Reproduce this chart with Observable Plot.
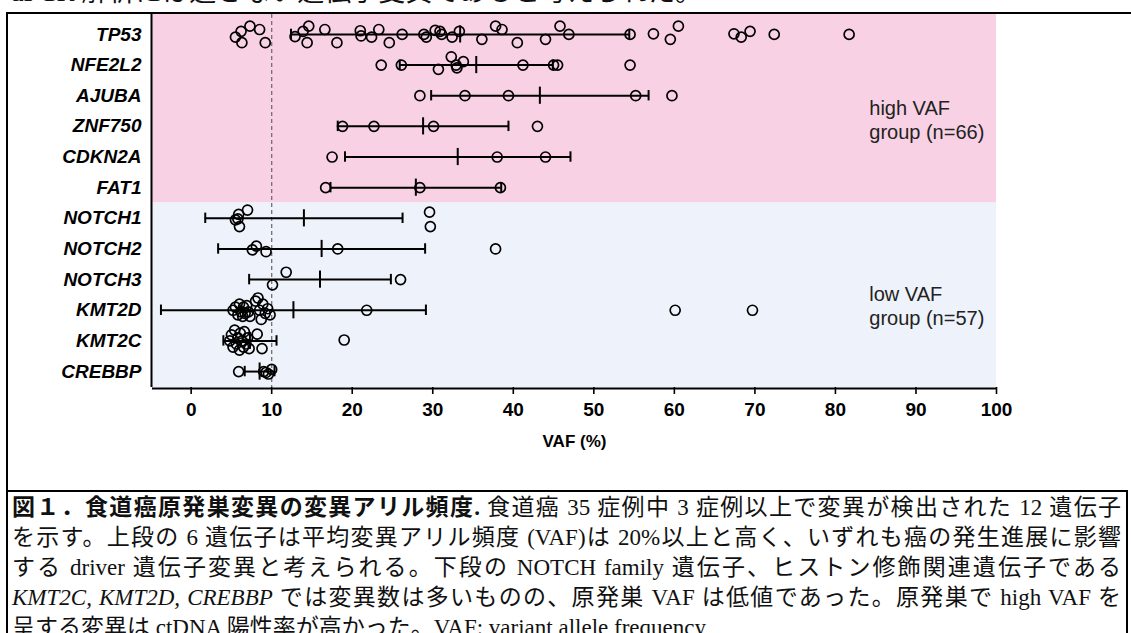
<!DOCTYPE html>
<html>
<head>
<meta charset="utf-8">
<script src="https://cdn.jsdelivr.net/npm/d3@7"></script>
<script src="https://cdn.jsdelivr.net/npm/@observablehq/plot@0.6"></script>
<style>
  html, body { margin: 0; padding: 0; background: #fff; }
  body { width: 1131px; height: 633px; position: relative; overflow: hidden; }
  #lead {
    position: absolute; left: 10px; top: -23px; white-space: nowrap;
    font: 27px/30px "Liberation Serif", "Noto Sans CJK JP", serif; color: #111;
  }
  #box {
    position: absolute; left: 6px; top: 12px; width: 1200px; height: 700px;
    border-top: 2px solid #000; border-left: 2px solid #000;
  }
  #chart { position: absolute; left: 0; top: 0; }
  #caption {
    position: absolute; left: 6px; top: 490px; width: 1122px;
    border-top: 2px solid #000; border-left: 2px solid #000; border-right: 2px solid #000;
    padding: 1px 5px 0 4px; box-sizing: border-box;
    font-family: "Liberation Serif", "Noto Sans CJK JP", serif; font-size: 23px; color: #111;
  }
  #caption .ln {
    height: 30px; line-height: 30px; white-space: nowrap;
    text-align: justify; text-align-last: justify;
  }
  #caption .ln.end { text-align-last: left; }
  #caption b { font-weight: bold; }
</style>
</head>
<body>
<div id="lead">dPCR 解析には適さない遺伝子変異であると考えられた。</div>
<div id="box"></div>
<div id="chart"></div>
<div id="caption">
  <div class="ln"><b>図１．食道癌原発巣変異の変異アリル頻度.</b> 食道癌 35 症例中 3 症例以上で変異が検出された 12 遺伝子</div>
  <div class="ln">を示す。上段の 6 遺伝子は平均変異アリル頻度 (VAF)は 20%以上と高く、いずれも癌の発生進展に影響</div>
  <div class="ln">する driver 遺伝子変異と考えられる。下段の NOTCH family 遺伝子、ヒストン修飾関連遺伝子である</div>
  <div class="ln"><i>KMT2C, KMT2D, CREBBP</i> では変異数は多いものの、原発巣 VAF は低値であった。原発巣で high VAF を</div>
  <div class="ln end">呈する変異は ctDNA 陽性率が高かった。VAF: variant allele frequency</div>
</div>
<script>
// Genes, top to bottom; the first six form the high-VAF group
const genes = ["TP53", "NFE2L2", "AJUBA", "ZNF750", "CDKN2A", "FAT1",
               "NOTCH1", "NOTCH2", "NOTCH3", "KMT2D", "KMT2C", "CREBBP"];
const highCount = 6;

// Mean and SD of VAF (%) per gene
const meanVAF = [33.4, 35.4, 43.3, 28.8, 33.1, 27.9, 14.0, 16.2, 16.0, 12.7, 7.3, 8.5];
const sdVAF   = [21.0, 9.5, 13.5, 10.6, 14.0, 10.6, 12.25, 12.85, 8.8, 16.45, 3.3, 1.85];

// Individual mutations: [VAF %, vertical jitter within the row]
const vafTP53 = [[5.5, 0.09], [6.2, -0.10], [6.3, 0.27], [7.3, -0.27], [8.5, -0.16], [9.2, 0.27],
  [12.9, 0.07], [13.9, -0.10], [14.6, -0.27], [14.4, 0.27], [16.6, -0.16], [18.1, 0.27],
  [21.0, -0.12], [21.1, 0.05], [22.4, 0.09], [23.3, -0.16], [24.6, 0.27], [26.2, 0.0],
  [28.9, 0.0], [29.2, 0.09], [30.3, -0.13], [30.9, -0.10], [31.1, 0.0], [32.4, 0.09],
  [33.3, -0.10], [36.1, 0.16], [37.8, -0.27], [38.6, -0.16], [40.5, 0.27], [44.0, 0.16],
  [45.8, -0.27], [46.9, 0.0], [54.5, 0.0], [57.4, -0.02], [59.5, 0.16], [60.5, -0.27],
  [67.4, -0.02], [68.3, 0.09], [69.4, -0.10], [72.4, 0.0], [81.7, 0.0]];
const vafNFE2L2 = [[23.6, 0], [26.1, 0], [30.7, 0.14], [32.3, -0.27], [32.9, 0], [33.0, 0.09],
  [33.8, -0.11], [41.2, 0], [45.0, 0], [45.5, 0], [54.5, 0]];
const vafAJUBA = [[28.4, 0], [34.0, 0], [39.4, 0], [55.2, 0], [59.7, 0]];
const vafZNF750 = [[18.8, 0], [22.7, 0], [30.1, 0], [43.0, 0]];
const vafCDKN2A = [[17.5, 0], [38.0, 0], [44.0, 0]];
const vafFAT1 = [[16.7, 0], [28.4, 0], [38.4, 0]];
const vafNOTCH1 = [[7.0, -0.27], [5.9, -0.13], [5.5, 0.05], [5.8, 0.02], [6.0, 0.27],
  [29.6, -0.20], [29.7, 0.27]];
const vafNOTCH2 = [[7.6, 0.03], [8.1, -0.09], [9.3, 0.09], [18.2, 0], [37.8, 0]];
const vafNOTCH3 = [[11.8, -0.24], [10.1, 0.17], [26.0, 0]];
const vafKMT2D = [[5.2, 0.0], [5.5, -0.10], [5.8, 0.15], [6.0, -0.20], [6.2, 0.05], [6.4, 0.20],
  [6.5, -0.10], [6.7, 0.10], [6.9, -0.15], [7.1, 0.05], [7.3, 0.20], [8.0, -0.30],
  [8.3, -0.40], [8.5, 0.0], [8.7, 0.30], [8.9, -0.20], [9.2, 0.10], [9.5, -0.05],
  [9.8, 0.15], [21.8, 0], [60.1, 0], [69.7, 0]];
const vafKMT2C = [[4.8, 0.0], [5.0, -0.20], [5.2, 0.20], [5.4, -0.35], [5.6, 0.10], [5.8, -0.10],
  [6.0, 0.30], [6.1, -0.25], [6.3, 0.0], [6.5, 0.20], [6.6, -0.30], [6.8, 0.10],
  [7.0, -0.10], [7.2, 0.25], [8.2, -0.22], [8.8, 0.25], [19.0, -0.03]];
const vafCREBBP = [[5.9, 0], [9.0, 0], [9.3, 0.03], [9.6, 0.08], [10.0, -0.07]];

const perGene = [vafTP53, vafNFE2L2, vafAJUBA, vafZNF750, vafCDKN2A, vafFAT1,
                 vafNOTCH1, vafNOTCH2, vafNOTCH3, vafKMT2D, vafKMT2C, vafCREBBP];

// Group labels
const groupNotes = ["high VAF\ngroup (n=66)", "low VAF\ngroup (n=57)"];

// Axis extents and ticks
const xDomain = [-4.8, 100];
const yDomain = [-0.65, 11.52];
const xTicks = d3.range(0, 101, 10);
const cutoff = 10;

const rows = genes.map((g, i) => ({gene: g, row: i, mean: meanVAF[i], sd: sdVAF[i]}));
const points = perGene.flatMap((arr, i) => arr.map(([v, j]) => ({row: i, vaf: v, jit: j})));
const split = highCount - 0.5;
const bands = [
  {y1: yDomain[0], y2: split, fill: "#f8d1e4"},
  {y1: split, y2: yDomain[1], fill: "#eef2fa"}
];
const notes = [
  {text: groupNotes[0], x: 84.2, y: 2.76},
  {text: groupNotes[1], x: 84.2, y: 8.84}
];

const chart = Plot.plot({
  width: 1131,
  height: 470,
  marginTop: 14,
  marginBottom: 83,
  marginLeft: 152,
  marginRight: 135,
  style: {fontFamily: "'Liberation Sans', Arial, sans-serif", background: "transparent", color: "#000", overflow: "visible"},
  x: {domain: xDomain, label: null},
  y: {domain: yDomain, reverse: true, label: null},
  marks: [
    Plot.rect(bands, {x1: xDomain[0], x2: xDomain[1], y1: "y1", y2: "y2", fill: "fill"}),
    Plot.ruleX([cutoff], {stroke: "#707070", strokeWidth: 1.3, strokeDasharray: "4,3"}),
    // SD whiskers, caps and mean ticks
    Plot.ruleY(rows, {y: "row", x1: d => d.mean - d.sd, x2: d => d.mean + d.sd, stroke: "#000", strokeWidth: 2}),
    Plot.ruleX(rows, {x: d => d.mean - d.sd, y1: d => d.row - 0.17, y2: d => d.row + 0.17, stroke: "#000", strokeWidth: 2}),
    Plot.ruleX(rows, {x: d => d.mean + d.sd, y1: d => d.row - 0.17, y2: d => d.row + 0.17, stroke: "#000", strokeWidth: 2}),
    Plot.ruleX(rows, {x: "mean", y1: d => d.row - 0.28, y2: d => d.row + 0.28, stroke: "#000", strokeWidth: 2}),
    // mutations
    Plot.dot(points, {x: "vaf", y: d => d.row + d.jit, r: 5, fill: "none", stroke: "#000", strokeWidth: 1.7}),
    Plot.text(notes, {x: "x", y: "y", text: "text", textAnchor: "start", lineAnchor: "middle",
      lineHeight: 1.2, fontSize: 20, fill: "#222"}),
    // axes
    Plot.ruleX([xDomain[0]], {stroke: "#000", strokeWidth: 2, dx: -1}),
    Plot.ruleY([yDomain[1]], {stroke: "#000", strokeWidth: 2, dy: 1}),
    Plot.axisX(xTicks, {anchor: "bottom", tickSize: 7, tickPadding: 8, strokeWidth: 1.6,
      fontSize: 19, fontWeight: "bold", label: null}),
    Plot.axisY(d3.range(genes.length), {anchor: "left", tickSize: 0, tickPadding: 11,
      tickFormat: i => genes[i], fontSize: 19, fontWeight: "bold", fontStyle: "italic", label: null}),
    Plot.text(["VAF (%)"], {frameAnchor: "bottom", dy: 59, fontSize: 17, fontWeight: "bold"})
  ]
});
document.getElementById("chart").appendChild(chart);
</script>
</body>
</html>
